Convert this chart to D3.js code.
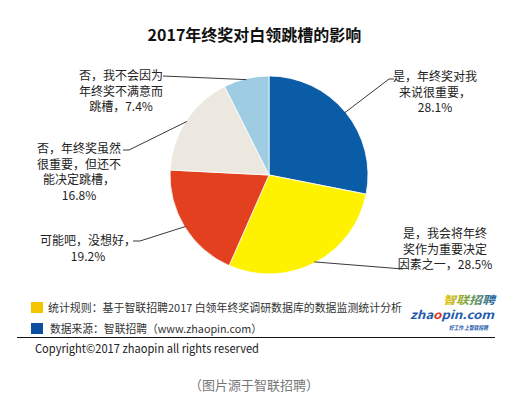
<!DOCTYPE html>
<html><head><meta charset="utf-8">
<script src="https://cdnjs.cloudflare.com/ajax/libs/d3/7.8.5/d3.min.js"></script>
<style>
html,body{margin:0;padding:0;background:#fff;}
svg{display:block;}
text{font-family:"Noto Sans CJK SC","Noto Sans",sans-serif;}
</style></head>
<body>
<script>
const title = "2017年终奖对白领跳槽的影响";
const categories = ["是，年终奖对我来说很重要", "是，我会将年终奖作为重要决定因素之一", "可能吧，没想好", "否，年终奖虽然很重要，但还不能决定跳槽", "否，我不会因为年终奖不满意而跳槽"];
const values = [28.1, 28.5, 19.2, 16.8, 7.4];
const colors = ["#0a5ca6", "#fff200", "#e2401f", "#ece8df", "#9ecce3"];
const labelLines = [
  ["是，年终奖对我", "来说很重要，", "28.1%"],
  ["是，我会将年终", "奖作为重要决定", "因素之一，28.5%"],
  ["可能吧，没想好，", "19.2%"],
  ["否，年终奖虽然", "很重要，但还不", "能决定跳槽，", "16.8%"],
  ["否，我不会因为", "年终奖不满意而", "跳槽，7.4%"]
];
const footnotes = ["统计规则：基于智联招聘2017 白领年终奖调研数据库的数据监测统计分析", "数据来源：智联招聘（www.zhaopin.com）"];
const copyright = "Copyright©2017 zhaopin all rights reserved";
const caption = "（图片源于智联招聘）";

const W = 509, H = 395;
const svg = d3.select("body").append("svg").attr("width", W).attr("height", H);

svg.append("text").attr("x", 254.5).attr("y", 41).attr("text-anchor", "middle")
  .attr("font-size", 16).attr("font-weight", "bold").attr("fill", "#111").text(title);

const cx = 269, cy = 175, R = 99;
const pie = d3.pie().sort(null).value(d => d)(values);
const arc = d3.arc().innerRadius(0).outerRadius(R);
const edge = d3.arc().innerRadius(R - 1).outerRadius(R - 1);
const g = svg.append("g").attr("transform", `translate(${cx},${cy})`);
g.selectAll("path").data(pie).join("path")
  .attr("d", arc).attr("fill", (d, i) => colors[i])
  .attr("stroke", "#fff").attr("stroke-width", 0.8);

const layout = [
  {x: 435, y: 81, anchor: "middle", pts: [[394, 79], [389, 79]]},
  {x: 445, y: 238, anchor: "middle", pts: [[403, 269]]},
  {x: 88, y: 245, anchor: "middle", pts: [[133, 241], [140, 241]]},
  {x: 79, y: 153, anchor: "middle", pts: [[123, 150], [129, 150]]},
  {x: 121, y: 80, anchor: "middle", pts: [[163, 76]]}
];
const lh = 15.5;
pie.forEach((d, i) => {
  const c = edge.centroid(d);
  const p0 = [cx + c[0], cy + c[1]];
  const L = layout[i];
  const lineData = L.pts.concat([p0]);
  svg.append("path").attr("d", d3.line()(lineData))
    .attr("fill", "none").attr("stroke", "#3a3a3a").attr("stroke-width", 1);
  const t = svg.append("text").attr("text-anchor", L.anchor).attr("font-size", 12).attr("fill", "#222");
  labelLines[i].forEach((s, k) => {
    t.append("tspan").attr("x", L.x).attr("y", L.y + k * lh).text(s);
  });
});

// footer
const sq = [["#f5c400", 302], ["#0c4f9f", 323]];
sq.forEach((s, i) => {
  svg.append("rect").attr("x", 31).attr("y", s[1]).attr("width", 12).attr("height", 11).attr("fill", s[0]);
  svg.append("text").attr("x", i === 0 ? 48 : 50).attr("y", s[1] + 10).attr("font-size", 11)
    .attr("fill", "#333").attr("textLength", i === 0 ? 354 : 212).attr("lengthAdjust", "spacingAndGlyphs").text(footnotes[i]);
});
svg.append("line").attr("x1", 17).attr("x2", 495).attr("y1", 337.5).attr("y2", 337.5).attr("stroke", "#111").attr("stroke-width", 1);
svg.append("text").attr("x", 35).attr("y", 353).attr("font-size", 12).attr("fill", "#222")
  .attr("textLength", 224).attr("lengthAdjust", "spacingAndGlyphs").text(copyright);
svg.append("text").attr("x", 254).attr("y", 390).attr("text-anchor", "middle").attr("font-size", 13).attr("fill", "#777").text(caption);

// logo
const defs = svg.append("defs");
const gr = defs.append("linearGradient").attr("id", "lg").attr("x1", 0).attr("x2", 1).attr("y1", 0).attr("y2", 0);
gr.append("stop").attr("offset", "0%").attr("stop-color", "#f2c500");
gr.append("stop").attr("offset", "45%").attr("stop-color", "#7aa040");
gr.append("stop").attr("offset", "100%").attr("stop-color", "#1f5fb0");
svg.append("text").attr("x", 443).attr("y", 304).attr("font-size", 11).attr("font-weight", "bold")
  .attr("font-style", "italic").attr("fill", "url(#lg)").attr("textLength", 52).attr("lengthAdjust", "spacingAndGlyphs").text("智联招聘");
const z = svg.append("text").attr("x", 410).attr("y", 318.5).attr("font-size", 11.5).attr("font-weight", "bold")
  .attr("font-style", "italic").attr("fill", "#1d5aab").attr("font-family", "DejaVu Sans, sans-serif")
  .attr("textLength", 84).attr("lengthAdjust", "spacingAndGlyphs");
z.append("tspan").text("zha");
z.append("tspan").attr("fill", "#e0301e").text("o");
z.append("tspan").text("pin.com");
svg.append("text").attr("x", 449).attr("y", 329.5).attr("font-size", 6).attr("font-weight", "bold")
  .attr("font-style", "italic").attr("fill", "#1d5aab").attr("textLength", 39).attr("lengthAdjust", "spacingAndGlyphs").text("好工作  上智联招聘");
</script>
</body></html>
